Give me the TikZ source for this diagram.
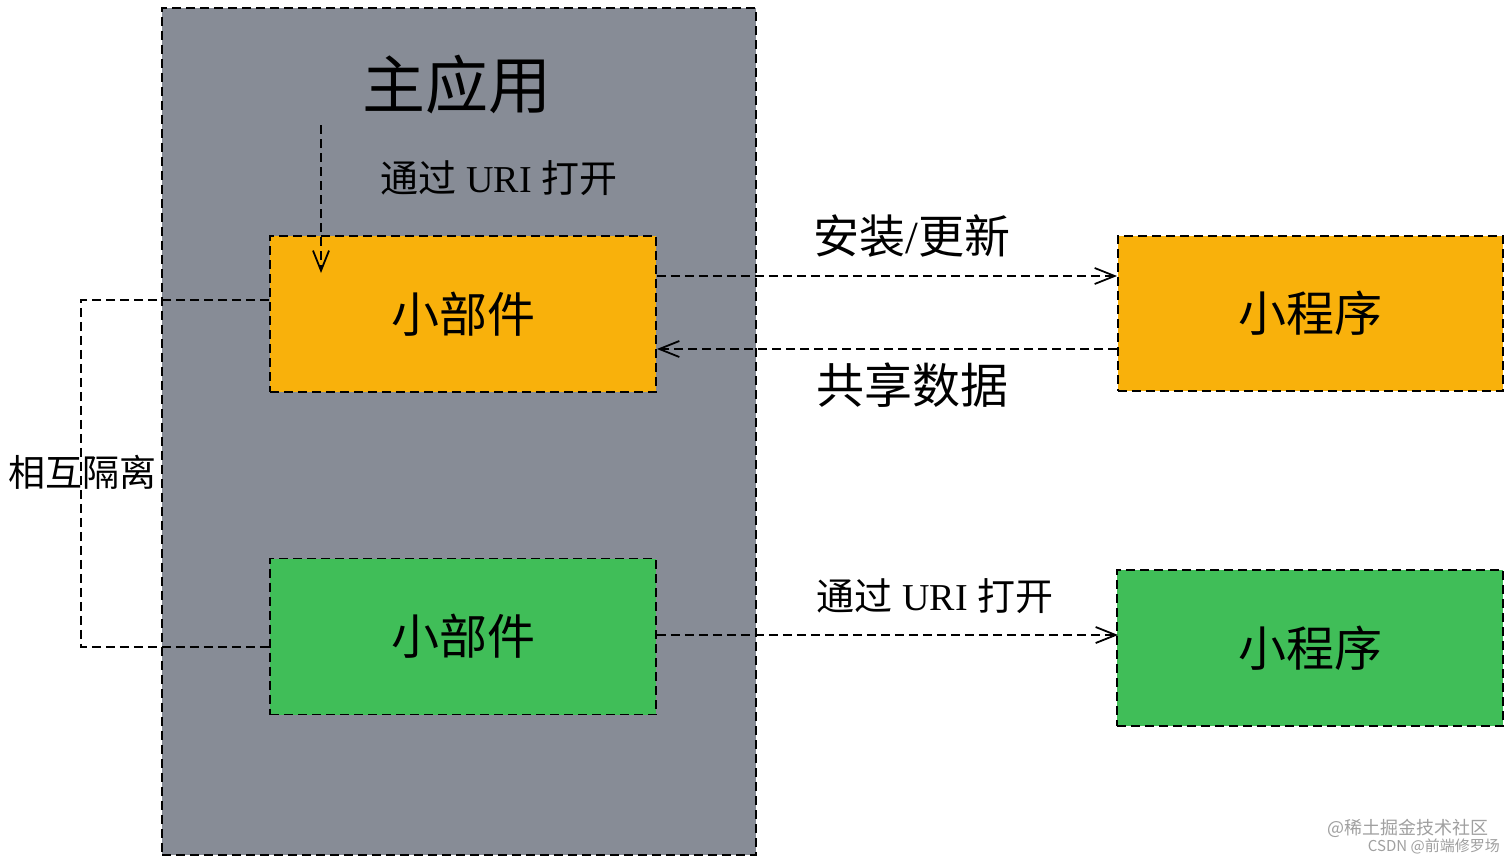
\documentclass[tikz,border=0pt]{standalone}
\usepackage{fontspec}
\setmainfont{Liberation Serif}
\newfontfamily\cjk{Noto Sans CJK SC}
\usetikzlibrary{arrows.meta}
\definecolor{appgray}{RGB}{135,140,150}
\definecolor{worange}{RGB}{249,177,11}
\definecolor{wgreen}{RGB}{64,190,88}
\definecolor{wmark}{RGB}{160,160,160}
\newcommand{\fs}[1]{\fontsize{#1}{#1}\selectfont}
\begin{document}
\begin{tikzpicture}[x=1pt,y=-1pt,
  dashline/.style={line width=1.8pt, dash pattern=on 9pt off 5pt},
  box/.style={dashline, draw=black, minimum width=386pt, minimum height=156pt, inner sep=0pt, font=\cjk\fs{48}},
  conn/.style={dashline, -{Straight Barb[length=20pt,width=16pt]}},
  plain/.style={dashline},
  lbl/.style={inner sep=0pt}
]
\useasboundingbox (0,0) rectangle (1512,862);
\fill[white] (0,0) rectangle (1512,862);

\node[draw=black, dashline, fill=appgray, minimum width=594pt, minimum height=847pt, inner sep=0pt] (app) at (459,431.5) {};
\node[lbl] (title) at (457,85) {\cjk\fs{63}主应用};

\node[box, fill=worange] (wA) at (463,314) {小部件};
\node[box, fill=wgreen] (wB) at (463,636.5) {小部件};
\node[box, fill=worange, minimum width=385pt, minimum height=155pt] (pA) at (1310.5,313.5) {小程序};
\node[box, fill=wgreen, minimum width=386pt, minimum height=156pt] (pB) at (1310,648) {小程序};

\coordinate (vtop) at (321,125);
\coordinate (vend) at (321,273);
\draw[conn] (vtop) -- (vend);
\node[lbl] (uriA) at (499,178) {\fs{38}{\cjk 通过} URI {\cjk 打开}};

\coordinate (yInst) at (0,276);
\coordinate (yShare) at (0,349);
\coordinate (yUri) at (0,635);
\draw[conn] (wA.east |- yInst) -- (pA.west |- yInst);
\draw[conn] (pA.west |- yShare) -- (wA.east |- yShare);
\draw[conn] (wB.east |- yUri) -- ([xshift=2pt]pB.west |- yUri);
\node[lbl] (inst) at (912,236) {\fs{46}{\cjk 安装}/{\cjk 更新}};
\node[lbl] (share) at (912,385) {\cjk\fs{48}共享数据};
\node[lbl] (uriB) at (935,596) {\fs{38}{\cjk 通过} URI {\cjk 打开}};

\coordinate (isoT) at (81,300);
\coordinate (isoB) at (81,647);
\draw[plain] (wA.west |- isoT) -- (isoT) -- (isoB) -- (wB.west |- isoB);
\node[lbl] (iso) at (83,472) {\cjk\fs{37}相互隔离};

\node[lbl, text=wmark, anchor=east] (wm1) at (1489,828) {\cjk\fs{18}@稀土掘金技术社区};
\node[lbl, text=wmark, anchor=east] (wm2) at (1500,846) {\cjk\fs{15}CSDN @前端修罗场};
\end{tikzpicture}
\end{document}
